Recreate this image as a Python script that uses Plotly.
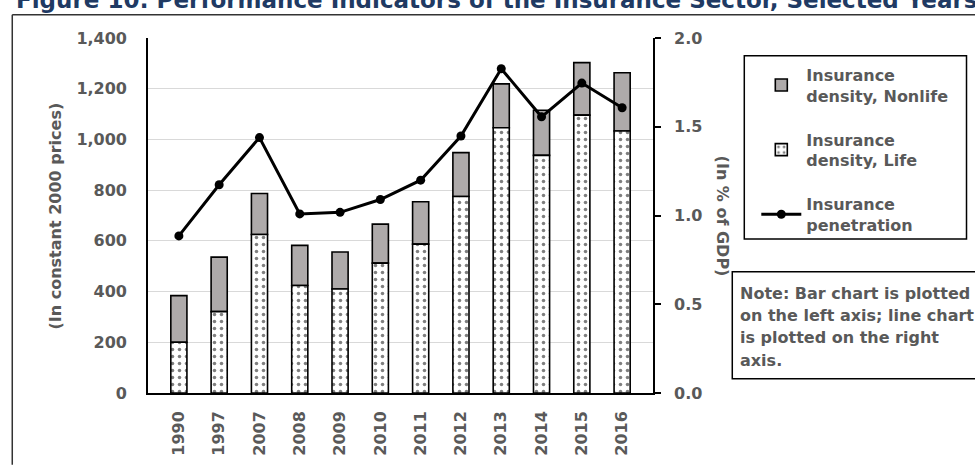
import plotly.graph_objects as go

# Data
years = ["1990", "1997", "2007", "2008", "2009", "2010", "2011", "2012", "2013", "2014", "2015", "2016"]
density_life = [200, 321, 625, 424, 410, 512, 587, 775, 1046, 937, 1096, 1033]
density_nonlife = [184, 215, 162, 158, 146, 154, 167, 173, 173, 178, 207, 230]
penetration = [0.885, 1.173, 1.439, 1.009, 1.018, 1.090, 1.199, 1.448, 1.827, 1.556, 1.746, 1.607]

title_text = "Figure 10: Performance Indicators of the Insurance Sector, Selected Years"
note_lines = ["Note: Bar chart is plotted", "on the left axis; line chart", "is plotted on the right", "axis."]

W, H = 975, 468
L, R, T, B = 148.3, 652.8, 37.5, 405.7
FONT = "DejaVu Sans"
GREY = "#595959"


def px(x):
    return (x - L) / (R - L)


def py(y):
    return (B - y) / (B - T)


fig = go.Figure()

fig.add_trace(go.Bar(
    x=years, y=density_nonlife, base=density_life, name="Insurance<br>density, Nonlife",
    marker=dict(color="#aeaaaa", line=dict(color="black", width=1.6)),
    width=0.4, legendgroup="nonlife",
))
fig.add_trace(go.Bar(
    x=years, y=density_life, name="Insurance<br>density, Life",
    marker=dict(color="white", line=dict(color="black", width=1.6),
                pattern=dict(shape=".", fgcolor="black", bgcolor="white", size=7, solidity=0.2)),
    width=0.4, legendgroup="life",
))
fig.add_trace(go.Scatter(
    x=years, y=penetration, name="Insurance<br>penetration", yaxis="y2",
    mode="lines+markers", line=dict(color="black", width=3),
    marker=dict(color="black", size=9), legendgroup="pen",
))

tickfont = dict(family=FONT, size=16, color=GREY, weight="bold")

fig.update_layout(
    width=W, height=H,
    margin=dict(l=L, r=W - R, t=T, b=H - B, pad=0),
    paper_bgcolor="white", plot_bgcolor="white",
    barmode="overlay",
    showlegend=True,
    legend=dict(
        x=px(756), y=py(58), xanchor="left", yanchor="top",
        bgcolor="rgba(0,0,0,0)", borderwidth=0,
        font=dict(family=FONT, size=16, color=GREY, weight="bold"),
        traceorder="grouped", tracegroupgap=20, itemwidth=40,
    ),
    xaxis=dict(
        type="category", tickangle=-90, tickfont=tickfont,
        showline=True, linecolor="black", linewidth=1.6,
        ticks="", showgrid=False, ticklabelstandoff=10,
    ),
    yaxis=dict(
        range=[0, 1400], tickvals=[0, 200, 400, 600, 800, 1000, 1200, 1400],
        tickformat=",", tickfont=tickfont,
        showline=True, linecolor="black", linewidth=1.6,
        showgrid=True, gridcolor="#d9d9d9", gridwidth=1,
        ticks="", ticklabelstandoff=16, zeroline=False,
    ),
    yaxis2=dict(
        range=[0, 2.0], tickvals=[0, 0.5, 1.0, 1.5, 2.0], tickformat=".1f",
        overlaying="y", side="right", tickfont=tickfont,
        showline=True, linecolor="black", linewidth=1.6,
        ticks="outside", ticklen=6, tickcolor="black", tickwidth=1.6,
        showgrid=False, zeroline=False, ticklabelstandoff=10,
    ),
)

annotations = [
    dict(text=title_text, xref="paper", yref="paper", x=px(14), y=py(-2),
         xanchor="left", yanchor="middle", showarrow=False,
         font=dict(family=FONT, size=23, color="#203A63", weight="bold")),
    dict(text="(In constant 2000 prices)", xref="paper", yref="paper",
         x=px(56), y=py(222), xanchor="center", yanchor="middle", textangle=-90,
         showarrow=False, font=dict(family=FONT, size=16, color=GREY, weight="bold")),
    dict(text="(In % of GDP)", xref="paper", yref="paper",
         x=px(722), y=py(222), xanchor="center", yanchor="middle", textangle=90,
         showarrow=False, font=dict(family=FONT, size=16, color=GREY, weight="bold")),
]
for i, line in enumerate(note_lines):
    annotations.append(dict(
        text=line, xref="paper", yref="paper", x=px(738), y=py(302 + i * 23.3),
        xanchor="left", yanchor="middle", showarrow=False,
        font=dict(family=FONT, size=16, color=GREY, weight="bold")))
fig.update_layout(annotations=annotations)

shapes = [
    # legend frame
    dict(type="rect", xref="paper", yref="paper", x0=px(744), x1=px(966), y0=py(246), y1=py(56),
         line=dict(color="black", width=1.5), fillcolor="rgba(0,0,0,0)", layer="above"),
    # note frame
    dict(type="rect", xref="paper", yref="paper", x0=px(732), x1=px(1000), y0=py(391), y1=py(280),
         line=dict(color="black", width=1.5), fillcolor="rgba(0,0,0,0)", layer="above"),
    # outer chart frame
    dict(type="line", xref="paper", yref="paper", x0=px(12.7), x1=px(1000), y0=py(13.3), y1=py(13.3),
         line=dict(color="#333333", width=1.5)),
    dict(type="line", xref="paper", yref="paper", x0=px(12.7), x1=px(12.7), y0=py(13.3), y1=py(480),
         line=dict(color="#333333", width=1.5)),
]
fig.update_layout(shapes=shapes)

fig.write_html("out.html")
